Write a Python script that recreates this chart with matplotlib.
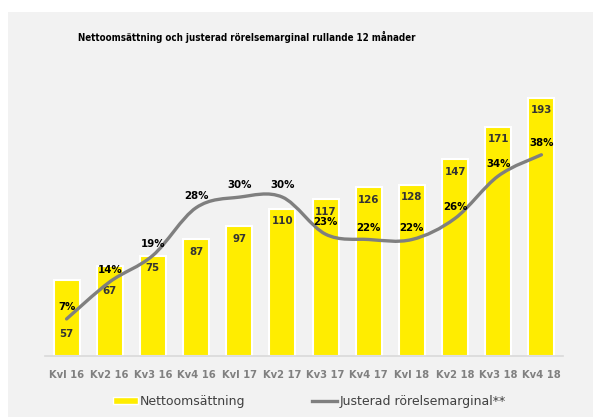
import matplotlib.pyplot as plt
from matplotlib.path import Path
from matplotlib.patches import PathPatch, Rectangle
from matplotlib.lines import Line2D
import numpy as np

quarters = ["Kv1 16", "Kv2 16", "Kv3 16", "Kv4 16", "Kv1 17", "Kv2 17",
            "Kv3 17", "Kv4 17", "Kv1 18", "Kv2 18", "Kv3 18", "Kv4 18"]
tick_labels = ["Kvl 16", "Kv2 16", "Kv3 16", "Kv4 16", "Kvl 17", "Kv2 17",
               "Kv3 17", "Kv4 17", "Kvl 18", "Kv2 18", "Kv3 18", "Kv4 18"]
net_sales = [57, 67, 75, 87, 97, 110, 117, 126, 128, 147, 171, 193]
margin = [7, 14, 19, 28, 30, 30, 23, 22, 22, 26, 34, 38]

YELLOW = "#ffed00"
GREY = "#7f7f7f"
BG = "#f2f2f2"


def smooth_path(xs, ys):
    # catmull-rom -> cubic bezier, like excel's smoothed line
    pts = np.column_stack([xs, ys]).astype(float)
    verts = [pts[0]]
    codes = [Path.MOVETO]
    n = len(pts)
    for i in range(n - 1):
        p0 = pts[i - 1] if i > 0 else pts[i]
        p1 = pts[i]
        p2 = pts[i + 1]
        p3 = pts[i + 2] if i + 2 < n else pts[i + 1]
        c1 = p1 + (p2 - p0) / 6.0
        c2 = p2 - (p3 - p1) / 6.0
        verts += [c1, c2, p2]
        codes += [Path.CURVE4] * 3
    return Path(verts, codes)


def main():
    cond = dict(family="DejaVu Sans", stretch="condensed", weight="bold")

    fig = plt.figure(figsize=(5.93, 4.17), dpi=100)
    fig.patch.set_facecolor("white")
    fig.patches.append(Rectangle((8 / 593, 0), 1, 1 - 12 / 417, transform=fig.transFigure,
                                 facecolor=BG, edgecolor="none", zorder=-10))

    ax = fig.add_axes([45 / 593, 1 - 356 / 417, 518 / 593, 296 / 417])
    ax.set_facecolor("none")
    x = np.arange(len(quarters))

    ax.bar(x, net_sales, width=0.6, color=YELLOW, edgecolor="white", linewidth=1.5, zorder=2)
    ax.set_xlim(-0.5, len(quarters) - 0.5)
    ax.set_ylim(0, 221)

    # value labels inside bars, the two first sit lower to leave room for %
    for i, v in enumerate(net_sales):
        off = -9
        if i == 0:
            off = -39
        elif i == 1:
            off = -18
        ax.annotate(str(v), (i, v), xytext=(0, off), textcoords="offset points",
                    ha="center", va="center", fontsize=8.2, color="#333333",
                    zorder=5, **cond)

    for s in ["top", "right", "left"]:
        ax.spines[s].set_visible(False)
    ax.spines["bottom"].set_color("#d9d9d9")
    ax.spines["bottom"].set_linewidth(1.2)
    ax.set_yticks([])
    ax.set_xticks(x)
    ax.set_xticklabels(tick_labels, fontsize=8, color="#808080", **cond)
    ax.tick_params(axis="x", length=0, pad=10)

    ax2 = ax.twinx()
    ax2.set_ylim(0, 55.9)
    ax2.set_yticks([])
    for s in ax2.spines.values():
        s.set_visible(False)
    ax2.add_patch(PathPatch(smooth_path(x, margin), facecolor="none", edgecolor=GREY,
                            linewidth=2.4, capstyle="round", zorder=3))
    for i, m in enumerate(margin):
        ax2.annotate(f"{m}%", (i, m), xytext=(0, 8.5), textcoords="offset points",
                     ha="center", va="center", fontsize=8.2, color="black",
                     zorder=6, **cond)

    fig.text(78 / 593, 1 - 37 / 417, "Nettoomsättning och justerad rörelsemarginal rullande 12 månader",
             fontsize=7, va="center", ha="left", **cond)

    handles = [Rectangle((0, 0), 1, 1, facecolor=YELLOW, edgecolor="white"),
               Line2D([0], [0], color=GREY, linewidth=2.4)]
    fig.legend(handles, ["Nettoomsättning", "Justerad rörelsemarginal**"],
               loc="center", bbox_to_anchor=(309 / 593, 1 - 401 / 417), ncol=2,
               frameon=False, fontsize=9, handlelength=2.0, handleheight=0.5,
               handletextpad=0.2, columnspacing=5.3, labelcolor="#404040")

    fig.savefig("out.png", dpi=100)


if __name__ == "__main__":
    main()
